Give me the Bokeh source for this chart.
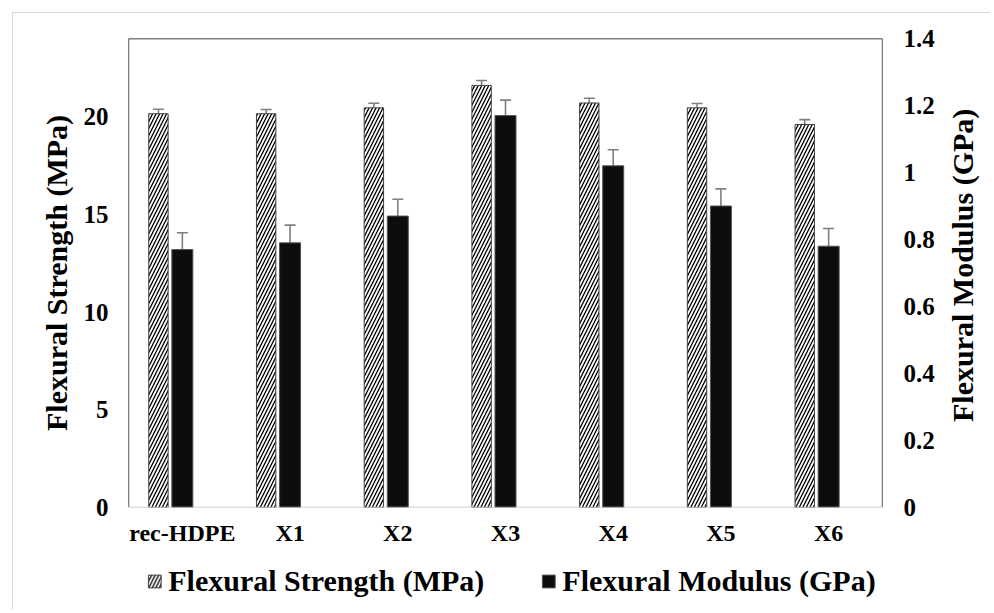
import math
from bokeh.plotting import figure
from bokeh.layouts import column, row
from bokeh.models import (FactorRange, Range1d, LinearAxis, FixedTicker, CustomJSTickFormatter,
                          ColumnDataSource, Whisker, Span, Legend, LegendItem, Label)
from bokeh.transform import dodge
from bokeh.embed import file_html
from bokeh.resources import INLINE

categories = ["rec-HDPE", "X1", "X2", "X3", "X4", "X5", "X6"]
strength = [20.15, 20.15, 20.45, 21.6, 20.7, 20.45, 19.6]
strength_err = [0.23, 0.22, 0.24, 0.25, 0.24, 0.22, 0.25]
modulus = [0.77, 0.79, 0.87, 1.17, 1.02, 0.90, 0.78]
modulus_err = [0.05, 0.053, 0.05, 0.046, 0.048, 0.051, 0.053]
left_ticks = [0, 5, 10, 15, 20]
right_ticks = [0, 0.2, 0.4, 0.6, 0.8, 1, 1.2, 1.4]
series_names = ["Flexural Strength (MPa)", "Flexural Modulus (GPa)"]
left_title = "Flexural Strength (MPa)"
right_title = "Flexural Modulus (GPa)"

FONT = "Liberation Serif"
HATCH = dict(fill_color="white", line_color="#404040", line_width=1,
             hatch_pattern="/", hatch_color="black", hatch_scale=7, hatch_weight=1.3)
SOLID = dict(fill_color="#0d0d0d", line_color="#555555", line_width=1)

src = ColumnDataSource(dict(
    cat=categories,
    s=strength,
    s_lo=[v - e for v, e in zip(strength, strength_err)],
    s_hi=[v + e for v, e in zip(strength, strength_err)],
    m=modulus,
    m_lo=[v - e for v, e in zip(modulus, modulus_err)],
    m_hi=[v + e for v, e in zip(modulus, modulus_err)],
))

W = 990
H_MAIN = 550
W_MAIN = 940
p = figure(x_range=FactorRange(factors=categories), y_range=Range1d(0, 24),
           width=W_MAIN, height=H_MAIN, output_backend="svg", toolbar_location=None,
           min_border_left=128, min_border_right=W_MAIN - 882, min_border_top=38, min_border_bottom=43)
p.extra_y_ranges = {"mod": Range1d(0, 1.4)}
p.outline_line_color = None
p.border_fill_color = None
p.xgrid.visible = False
p.ygrid.visible = False

S_OFF = -0.222
r1 = p.vbar(x=dodge("cat", S_OFF, range=p.x_range), top="s", width=0.18, source=src, **HATCH)
r2 = p.vbar(x=dodge("cat", 0.0, range=p.x_range), top="m", width=0.195, source=src,
            y_range_name="mod", **SOLID)

for base, lo, hi, yr in [(dodge("cat", S_OFF, range=p.x_range), "s_lo", "s_hi", "default"),
                         (dodge("cat", 0.0, range=p.x_range), "m_lo", "m_hi", "mod")]:
    w = Whisker(base=base, lower=lo, upper=hi, source=src, y_range_name=yr,
                line_color="#7f7f7f", line_width=1.6)
    for h in (w.upper_head, w.lower_head):
        h.size = 11
        h.line_color = "#7f7f7f"
        h.line_width = 1.6
    p.add_layout(w)

# frame lines
p.add_layout(Span(location=0, dimension="height", line_color="black", line_width=1.3))
p.add_layout(Span(location=len(categories), dimension="height", line_color="black", line_width=1.3))
p.add_layout(Span(location=24, dimension="width", line_color="black", line_width=1.3))
p.add_layout(Span(location=0, dimension="width", line_color="#c0c0c0", line_width=1.5))

def style_axis(ax, size="24px"):
    ax.axis_line_color = None
    ax.major_tick_line_color = None
    ax.minor_tick_line_color = None
    ax.major_tick_out = 0
    ax.major_tick_in = 0
    ax.minor_tick_out = 0
    ax.major_label_text_font = FONT
    ax.major_label_text_font_style = "bold"
    ax.major_label_text_font_size = size
    ax.major_label_text_color = "black"
    ax.axis_label_text_font = FONT
    ax.axis_label_text_font_style = "bold"
    ax.axis_label_text_font_size = "30px"
    ax.axis_label_text_color = "black"

ya = p.yaxis[0]
ya.ticker = FixedTicker(ticks=left_ticks)
ya.axis_label = left_title
style_axis(ya, "25px")
ya.major_label_standoff = 20
ya.axis_label_standoff = 8

ra = LinearAxis(y_range_name="mod", ticker=FixedTicker(ticks=right_ticks),
                formatter=CustomJSTickFormatter(code="return String(Math.round(tick*10)/10);"))
style_axis(ra, "25px")
ra.major_label_standoff = 21
p.add_layout(ra, "right")

xa = p.xaxis[0]
style_axis(xa, "24px")
xa.major_label_standoff = 12

# right-hand title strip (reads bottom to top, as in the reference)
rt = figure(x_range=Range1d(0, W - W_MAIN), y_range=Range1d(0, H_MAIN),
            width=W - W_MAIN, height=H_MAIN, output_backend="svg", toolbar_location=None,
            min_border=0)
rt.axis.visible = False
rt.grid.visible = False
rt.outline_line_color = None
rt.border_fill_color = None
rt.background_fill_color = None
rt.add_layout(Label(x=22, y=H_MAIN - 266, text=right_title, angle=math.pi / 2,
                    text_align="center", text_baseline="middle",
                    text_font=FONT, text_font_style="bold", text_font_size="30px",
                    text_color="black"))

# legend strip below the chart
q = figure(x_range=FactorRange(factors=categories), y_range=Range1d(100, 101), width=W, height=60,
           output_backend="svg", toolbar_location=None,
           min_border_left=32, min_border_right=0, min_border_top=0, min_border_bottom=0)
q.axis.visible = False
q.grid.visible = False
q.outline_line_color = None
q.border_fill_color = None
q.background_fill_color = None
lr1 = q.vbar(x="cat", top="s", width=0.18, source=src, **HATCH)
lr2 = q.vbar(x="cat", top="m", width=0.195, source=src, **SOLID)
legend = Legend(items=[LegendItem(label=series_names[0], renderers=[lr1]),
                       LegendItem(label=series_names[1], renderers=[lr2])],
                orientation="horizontal", location="top_center",
                label_text_font=FONT, label_text_font_style="bold", label_text_font_size="30px",
                label_text_color="black",
                glyph_width=16, glyph_height=16, label_standoff=6, spacing=56,
                padding=2, margin=14, border_line_color=None, background_fill_alpha=0)
q.add_layout(legend)

g = "linear-gradient(#dadada, #dadada)"
layout = column(row(p, rt, spacing=0), q, spacing=0,
                styles={"background-image": f"{g}, {g}",
                        "background-size": "1px 100%, 100% 1px",
                        "background-position": "12px 12px, 12px 12px",
                        "background-repeat": "no-repeat"})

open("out.html", "w").write(file_html(layout, INLINE))
